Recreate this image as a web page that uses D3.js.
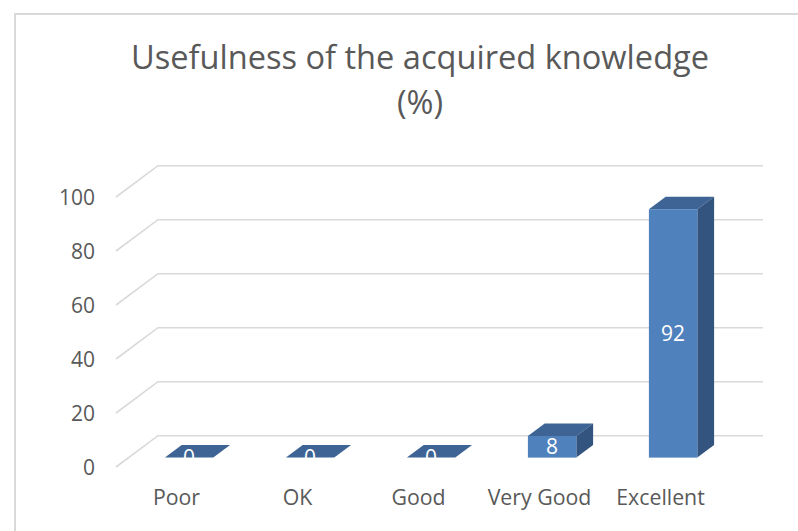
<!DOCTYPE html>
<html>
<head>
<meta charset="utf-8">
<script src="https://cdn.jsdelivr.net/npm/d3@7"></script>
<style>
  body { margin: 0; background: #fff; }
  text { font-family: "Open Sans", sans-serif; }
</style>
</head>
<body>
<div id="chart"></div>
<script>
// data
const categories = ["Poor", "OK", "Good", "Very Good", "Excellent"];
const values = [0, 0, 0, 8, 92];
const yTicks = [0, 20, 40, 60, 80, 100];
const titleLines = ["Usefulness of the acquired knowledge", "(%)"];

const width = 798, height = 531;
const margin = {left: 116, right: 35, top: 197, bottom: 64};
// 3d depth of the floor / wall
const depth = {dx: 42, dy: -31.3};
const barFront = 0.3, barDepth = 0.4; // fractions of the depth

const colors = {front: "#4f81bd", top: "#3d6494", side: "#32547f", grid: "#d9d9d9", text: "#595959"};

const svg = d3.select("#chart").append("svg")
  .attr("width", width)
  .attr("height", height);

// chart border
svg.append("rect")
  .attr("x", 15).attr("y", 14)
  .attr("width", width).attr("height", height)
  .attr("fill", "none")
  .attr("stroke", colors.grid)
  .attr("stroke-width", 2);

// front plane of the floor
const x = d3.scaleBand()
  .domain(categories)
  .range([margin.left, width - margin.right - depth.dx]);

const y = d3.scaleLinear()
  .domain([0, 100])
  .range([height - margin.bottom, margin.top]);

// title
svg.append("g").selectAll("text")
  .data(titleLines)
  .join("text")
  .attr("x", 420)
  .attr("y", (d, i) => 69 + i * 45)
  .attr("text-anchor", "middle")
  .attr("fill", colors.text)
  .style("font-size", "32.6px")
  .text(d => d);

// gridlines: wall diagonal then back plane
svg.append("g").selectAll("path")
  .data(yTicks)
  .join("path")
  .attr("d", d => "M" + x.range()[0] + "," + y(d) +
    "L" + (x.range()[0] + depth.dx) + "," + (y(d) + depth.dy) +
    "H" + (x.range()[1] + depth.dx))
  .attr("fill", "none")
  .attr("stroke", colors.grid)
  .attr("stroke-width", 1.6);

// y tick labels
svg.append("g").selectAll("text")
  .data(yTicks)
  .join("text")
  .attr("x", 95)
  .attr("y", d => y(d))
  .attr("dy", "0.36em")
  .attr("text-anchor", "end")
  .attr("fill", colors.text)
  .style("font-size", "21px")
  .text(d => d);

// category labels
svg.append("g").selectAll("text")
  .data(categories)
  .join("text")
  .attr("x", d => x(d) + x.bandwidth() / 2)
  .attr("y", 505)
  .attr("text-anchor", "middle")
  .attr("fill", colors.text)
  .style("font-size", "21.3px")
  .text(d => d);

// bars
const bw = x.bandwidth() / 2.5;
const fx = depth.dx * barFront, fy = depth.dy * barFront;
const bdx = depth.dx * barDepth, bdy = depth.dy * barDepth;
const bars = categories.map((c, i) => {
  const x0 = x(c) + x.bandwidth() / 2 + fx - bw / 2;
  const yb = y(0) + fy;
  const yt = y(values[i]) + fy;
  return {c: c, v: values[i], x0: x0, x1: x0 + bw, yb: yb, yt: yt};
});

const barG = svg.append("g").selectAll("g")
  .data(bars)
  .join("g");

barG.append("path")
  .attr("d", d => "M" + d.x0 + "," + d.yt + "L" + (d.x0 + bdx) + "," + (d.yt + bdy) +
    "H" + (d.x1 + bdx) + "L" + d.x1 + "," + d.yt + "Z")
  .attr("fill", colors.top);

barG.append("path")
  .attr("d", d => "M" + d.x1 + "," + d.yt + "L" + (d.x1 + bdx) + "," + (d.yt + bdy) +
    "V" + (d.yb + bdy) + "L" + d.x1 + "," + d.yb + "Z")
  .attr("fill", colors.side);

barG.append("rect")
  .attr("x", d => d.x0)
  .attr("y", d => d.yt)
  .attr("width", bw)
  .attr("height", d => d.yb - d.yt)
  .attr("fill", colors.front);

// data labels
barG.append("text")
  .attr("x", d => (d.x0 + d.x1) / 2)
  .attr("y", d => (d.yt + d.yb) / 2)
  .attr("dy", "0.36em")
  .attr("text-anchor", "middle")
  .attr("fill", "#fff")
  .style("font-size", "21px")
  .text(d => d.v);
</script>
</body>
</html>
